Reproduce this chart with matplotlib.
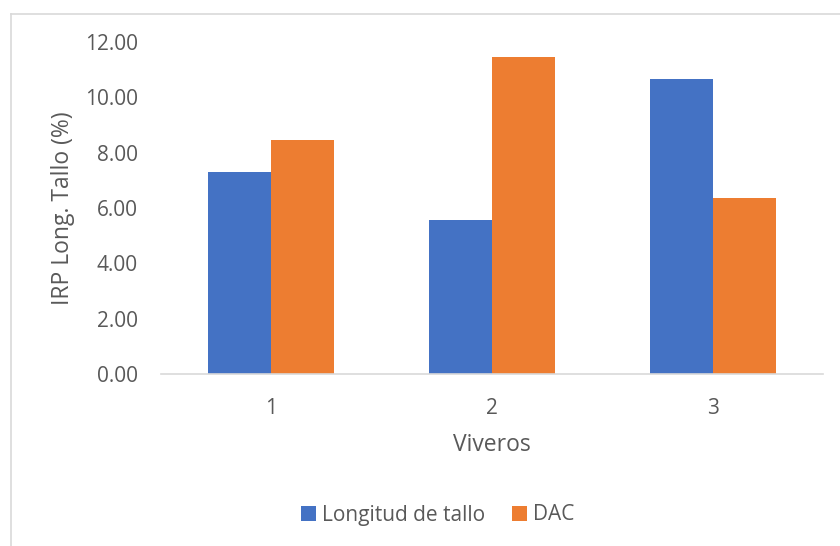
import matplotlib
matplotlib.use("Agg")
import matplotlib.pyplot as plt
from matplotlib.lines import Line2D
from matplotlib.patches import Patch
import numpy as np

plt.rcParams['font.family'] = ['Open Sans', 'DejaVu Sans']

viveros = ["1", "2", "3"]
longitud_tallo = [7.30, 5.56, 10.67]
dac = [8.46, 11.47, 6.37]
y_ticks = [0, 2, 4, 6, 8, 10, 12]
series_names = ["Longitud de tallo", "DAC"]

BLUE = "#4472C4"
ORANGE = "#ED7D31"
TEXT = "#595959"
LINE = "#D9D9D9"

W, H = 840, 546
fig = plt.figure(figsize=(W / 100, H / 100), dpi=100)
ax = fig.add_axes([161 / W, 1 - 374 / H, (823 - 161) / W, (374 - 42) / H])

x = np.arange(len(viveros))
bw = 0.286
ax.bar(x - bw / 2, longitud_tallo, width=bw, color=BLUE, linewidth=0)
ax.bar(x + bw / 2, dac, width=bw, color=ORANGE, linewidth=0)

ax.set_xlim(-0.5, len(viveros) - 0.5)
ax.set_ylim(0, 12)
ax.set_yticks(y_ticks)
ax.set_yticklabels([f"{v:.2f}" for v in y_ticks])
ax.set_xticks(x)
ax.set_xticklabels(viveros)
ax.tick_params(axis='both', length=0, labelsize=15, colors=TEXT)
ax.tick_params(axis='y', pad=16.5)
ax.tick_params(axis='x', pad=17)

for s in ['top', 'right', 'left']:
    ax.spines[s].set_visible(False)
ax.spines['bottom'].set_color(LINE)
ax.spines['bottom'].set_linewidth(1.2)

fig.text(63 / W, 1 - 208 / H, "IRP Long. Tallo (%)", rotation=90,
         ha='center', va='center', fontsize=16.5, color=TEXT)
fig.text(492 / W, 1 - 445 / H, "Viveros", ha='center', va='center',
         fontsize=16.5, color=TEXT)

handles = [Patch(facecolor=BLUE, edgecolor='none'),
           Patch(facecolor=ORANGE, edgecolor='none')]
fig.legend(handles, series_names, loc='center', bbox_to_anchor=(438 / W, 1 - 515 / H),
           ncol=2, frameon=False, fontsize=15, labelcolor=TEXT,
           handlelength=0.7, handleheight=0.7, handletextpad=0.3,
           columnspacing=1.3)

# chart area border
fig.add_artist(Line2D([10.5 / W, 10.5 / W], [0, 1 - 13.5 / H], transform=fig.transFigure,
                      color=LINE, linewidth=1.2))
fig.add_artist(Line2D([10.5 / W, 1], [1 - 13.5 / H, 1 - 13.5 / H], transform=fig.transFigure,
                      color=LINE, linewidth=1.2))

fig.savefig("out.png", dpi=100, facecolor="white")
